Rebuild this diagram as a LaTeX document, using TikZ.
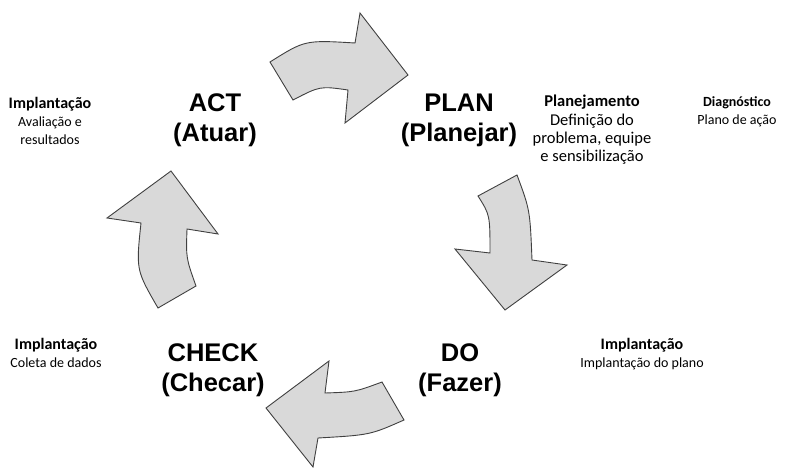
\documentclass[tikz,border=0pt]{standalone}
\usepackage{fontspec}
\setmainfont{Liberation Sans}
\newfontfamily\notefont{Carlito}
\definecolor{arrowgray}{RGB}{217,217,217}
\definecolor{edgegray}{RGB}{64,64,64}
\newcommand\notehead[1]{{\fontsize{16}{18}\selectfont\bfseries #1}}
\begin{document}
\begin{tikzpicture}[x=1pt,y=-1pt,
  cyclearrow/.style={fill=arrowgray, draw=edgegray, line width=0.9pt, line join=miter},
  phase/.style={font=\fontsize{25.5}{30}\selectfont\bfseries, align=center, inner sep=0pt, anchor=north},
  note/.style={font=\notefont\fontsize{14}{18}\selectfont, align=center, inner sep=0pt, anchor=north},
  bignote/.style={font=\notefont\fontsize{16.5}{18.3}\selectfont, align=center, inner sep=0pt, anchor=north}]
\useasboundingbox (0,0) rectangle (787,468);

% curved arrows of the cycle
\draw[cyclearrow] (270,62) .. controls (305,40) .. (355,43) -- (360,13) -- (408,75)
  -- (345,123) -- (348,90) .. controls (320,86) .. (293,100) -- cycle;
\draw[cyclearrow] (478,196) -- (517,175) .. controls (530,210) .. (532,260) -- (567,265)
  -- (505,310) -- (455,249) -- (490,253) .. controls (490,215) .. (478,196) -- cycle;
\draw[cyclearrow] (382,382) -- (404,420) .. controls (370,435) .. (318,438) -- (313,467)
  -- (266,408) -- (329,361) -- (325,393) .. controls (355,392) .. (382,382) -- cycle;
\draw[cyclearrow] (158,308) -- (196,286) .. controls (186,258) .. (187,229) -- (218,234)
  -- (171,171) -- (107,218) -- (141,223) .. controls (136,270) .. (158,308) -- cycle;

% phase labels
\node[phase] (act) at (215,93.7) {ACT\\(Atuar)};
\node[phase] (plan) at (459,93.7) {PLAN\\(Planejar)};
\node[phase] (check) at (213,343.7) {CHECK\\(Checar)};
\node[phase] (do) at (460,343.7) {DO\\(Fazer)};

% notes
\node[note] (noteact) at (50,97) {\notehead{Implantação}\\Avaliação e\\resultados};
\node[bignote] (noteplan) at (592,95) {\textbf{Planejamento}\\Definição do\\problema, equipe\\e sensibilização};
\node[note] (notediag) at (737,96) {\textbf{Diagnóstico}\\Plano de ação};
\node[note] (notecheck) at (56,338) {\notehead{Implantação}\\Coleta de dados};
\node[note] (notedo) at (642,338) {\notehead{Implantação}\\Implantação do plano};
\end{tikzpicture}
\end{document}
